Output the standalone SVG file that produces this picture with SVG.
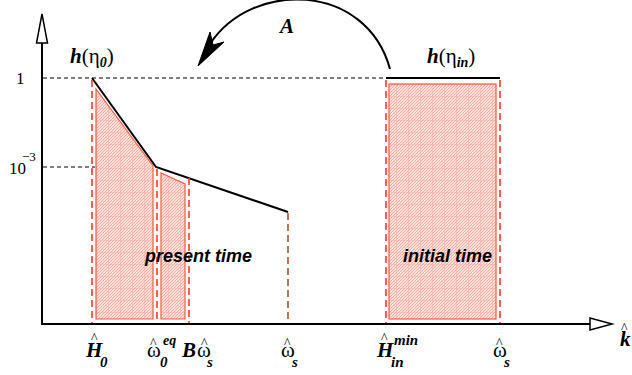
<svg xmlns="http://www.w3.org/2000/svg" width="632" height="375" viewBox="0 0 632 375">
<defs>
<pattern id="hatch" patternUnits="userSpaceOnUse" width="12" height="12">
<rect width="12" height="12" fill="#fde2dc"/>
<path d="M0 3 L3 0 M0 6 L6 0 M0 9 L9 0 M0 12 L12 0 M3 12 L12 3 M6 12 L12 6 M9 12 L12 9" stroke="#f39080" stroke-width="0.7"/>
<path d="M0 0.3 H12 M0.3 0 V12" stroke="#f7b0a4" stroke-width="0.6"/>
</pattern>
<style>
.axis{stroke:#000;stroke-width:2;fill:none}
.curve{stroke:#000;stroke-width:2;fill:none}
.kdash{stroke:#000;stroke-width:1;stroke-dasharray:4 3;fill:none}
.rdash{stroke:#ff3b22;stroke-width:1.6;stroke-dasharray:7 4;fill:none}
.bdash{stroke:#a8552a;stroke-width:1.6;stroke-dasharray:7 4;fill:none}
.region{fill:url(#hatch);stroke:#ff5a40;stroke-width:1.2}
.num{font-size:17px}
.math{font-weight:bold;font-style:italic;font-size:21px}
.up{font-style:normal;font-weight:normal}
.hat{font-style:normal;font-weight:normal;font-size:14px}
.sub{font-size:15px}
.lbl{font-weight:bold;font-style:italic;font-size:18px}
</style>
</defs>

<g id="regions">
<polygon id="region-present-1" class="region" points="96,89 153,166 153,319 96,319"/>
<polygon id="region-present-2" class="region" points="161,173 185,184 185,319 161,319"/>
<rect id="region-initial" class="region" x="389" y="84" width="107" height="235"/>
</g>

<g id="connectors">
<path class="kdash" d="M43 78 H385"/>
<path class="kdash" d="M43 167 H95"/>
<path class="curve" d="M92 78 L156 167 L288 212"/>
<path class="curve" d="M386 78 H500"/>
<path class="rdash" d="M92 80 V324"/>
<path class="rdash" d="M157 169 V324"/>
<path class="rdash" d="M189 178 V324"/>
<path class="bdash" d="M288 213 V324"/>
<path class="rdash" d="M386 80 V324"/>
<path class="rdash" d="M500 80 V324"/>
<path class="curve" d="M390 69 C366 -18 252 -20 210 44"/>
<path d="M198 66 L210 32 L213 45 L224 42 Z" fill="#000" stroke="#000" stroke-width="1"/>
</g>

<g id="axes">
<path class="axis" d="M42 324 V43"/>
<polygon points="42,14 36.5,43 47.5,43" fill="#fff" stroke="#000" stroke-width="1.5"/>
<path class="axis" d="M41 324 H590"/>
<polygon points="612,324 590,318 590,330" fill="#fff" stroke="#000" stroke-width="1.5"/>
</g>

<g id="y-labels" font-family="Liberation Serif, Times New Roman, serif">
<text class="num" x="16" y="84">1</text>
<text class="num" x="9" y="174">10<tspan x="22" y="161" font-size="13">−3</tspan></text>
</g>

<g id="curve-labels" font-family="Liberation Serif, Times New Roman, serif">
<text class="math" x="70" y="63" font-size="20">h<tspan class="up">(η</tspan><tspan font-size="14" dy="4">0</tspan><tspan class="up" dy="-4">)</tspan></text>
<text class="math" x="427" y="63" font-size="20">h<tspan class="up">(η</tspan><tspan font-size="14" dy="4">in</tspan><tspan class="up" dy="-4">)</tspan></text>
<text class="math" x="280" y="33" font-size="19">A</text>
</g>

<g id="time-labels" font-family="Liberation Sans, Arial, sans-serif">
<text class="lbl" x="145" y="262">present time</text>
<text class="lbl" x="403" y="262">initial time</text>
</g>

<g id="x-labels" font-family="Liberation Serif, Times New Roman, serif">
<text id="lbl-H0" class="math"><tspan class="hat" x="91" y="343">^</tspan><tspan x="86" y="357">H</tspan><tspan class="sub" x="100" y="367">0</tspan></text>
<text id="lbl-w0eq" class="math"><tspan class="hat" x="150" y="348">^</tspan><tspan class="up" x="147" y="357">ω</tspan><tspan class="sub" x="160" y="367">0</tspan><tspan font-size="14" x="163" y="345">eq</tspan></text>
<text id="lbl-Bws" class="math"><tspan x="182" y="357">B</tspan><tspan class="hat" x="201" y="348">^</tspan><tspan class="up" x="197" y="357">ω</tspan><tspan class="sub" x="207" y="367">s</tspan></text>
<text id="lbl-ws1" class="math"><tspan class="hat" x="284" y="348">^</tspan><tspan class="up" x="281" y="357">ω</tspan><tspan class="sub" x="292" y="367">s</tspan></text>
<text id="lbl-Hin" class="math"><tspan class="hat" x="381" y="343">^</tspan><tspan x="377" y="357">H</tspan><tspan class="sub" x="391" y="367">in</tspan><tspan class="sub" x="394" y="345">min</tspan></text>
<text id="lbl-ws2" class="math"><tspan class="hat" x="496" y="348">^</tspan><tspan class="up" x="493" y="357">ω</tspan><tspan class="sub" x="504" y="367">s</tspan></text>
<text id="lbl-k" class="math"><tspan class="hat" x="621" y="333">^</tspan><tspan x="620" y="346">k</tspan></text>
</g>
</svg>
